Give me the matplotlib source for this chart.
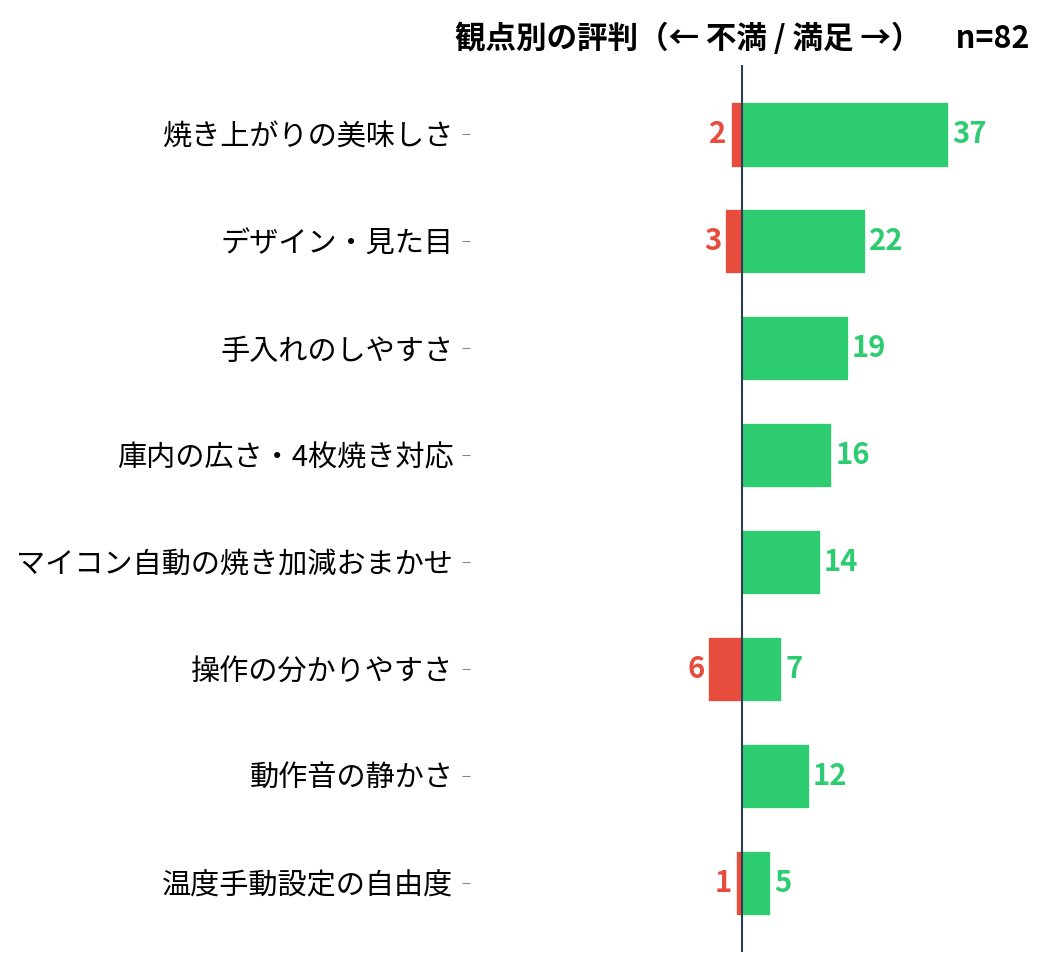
import matplotlib
matplotlib.use("Agg")
import matplotlib.pyplot as plt

plt.rcParams['font.family'] = ['Noto Sans CJK JP', 'DejaVu Sans']

categories = ["焼き上がりの美味しさ", "デザイン・見た目", "手入れのしやすさ", "庫内の広さ・4枚焼き対応",
              "マイコン自動の焼き加減おまかせ", "操作の分かりやすさ", "動作音の静かさ", "温度手動設定の自由度"]
satisfied = [37, 22, 19, 16, 14, 7, 12, 5]
dissatisfied = [2, 3, 0, 0, 0, 6, 0, 1]
n_total = 82
title_text = "観点別の評判（← 不満 / 満足 →）"

RED = "#e74c3c"
GREEN = "#2ecc71"
NAVY = "#2c3e50"

fig = plt.figure(figsize=(10.46, 9.69), dpi=100)
ax = fig.add_axes([0.4493, 0.0175, 0.520, 0.9154])

y = list(range(len(categories)))
ax.barh(y, satisfied, height=0.6, color=GREEN, edgecolor='white', linewidth=0.5)
ax.barh(y, [-d for d in dissatisfied], height=0.6, color=RED, edgecolor='white', linewidth=0.5)

L = 48.8
ax.set_xlim(-L, L)
ax.set_ylim(len(categories) - 1 + 0.65, -0.65)
ax.axvline(0, color=NAVY, lw=1.5)

for i, (s, d) in enumerate(zip(satisfied, dissatisfied)):
    if s > 0:
        ax.annotate(str(s), (s, i), xytext=(3, 0), textcoords='offset points',
                    ha='left', va='center', color=GREEN, fontsize=21, fontweight='bold')
    if d > 0:
        ax.annotate(str(d), (-d, i), xytext=(-3, 0), textcoords='offset points',
                    ha='right', va='center', color=RED, fontsize=21, fontweight='bold')

ax.set_yticks(y)
ax.set_yticklabels(categories, fontsize=21)
ax.tick_params(axis='y', length=6, color='#888888', pad=6)
ax.set_xticks([])
for sp in ax.spines.values():
    sp.set_visible(False)

ax.set_title(f"{title_text}     n={n_total}", fontsize=22, fontweight='bold', pad=12)

fig.savefig("out.png", dpi=100)
